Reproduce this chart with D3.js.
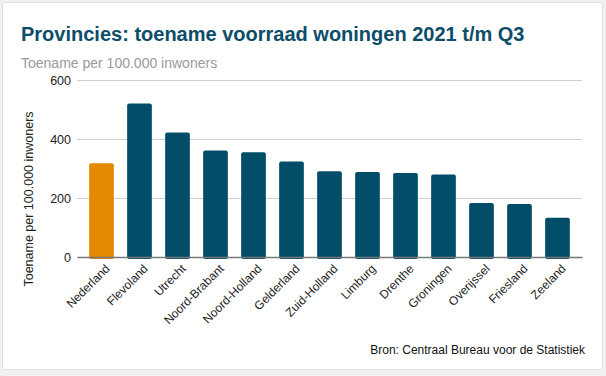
<!DOCTYPE html>
<html>
<head>
<meta charset="utf-8">
<script src="https://cdn.jsdelivr.net/npm/d3@7"></script>
<style>
  body { margin: 0; background: #f1f1f1; font-family: "Liberation Sans", Arial, sans-serif; }
  svg { display: block; }
</style>
</head>
<body>
<svg id="chart"></svg>
<script>
var provinces = ["Nederland", "Flevoland", "Utrecht", "Noord-Brabant", "Noord-Holland", "Gelderland",
                 "Zuid-Holland", "Limburg", "Drenthe", "Groningen", "Overijssel", "Friesland", "Zeeland"];
var toename = [318, 520, 422, 361, 355, 324, 291, 288, 285, 280, 183, 180, 133];
var yTicks = [0, 200, 400, 600];

var width = 606, height = 376;
var svg = d3.select("#chart").attr("width", width).attr("height", height);

// card
svg.append("rect").attr("x", 2.5).attr("y", 2.5).attr("width", 600).attr("height", 367)
   .attr("fill", "#fff").attr("stroke", "#e2e2e2");

svg.append("text").attr("x", 21).attr("y", 41)
   .attr("font-size", 20).attr("font-weight", "bold").attr("fill", "#0c4d69")
   .text("Provincies: toename voorraad woningen 2021 t/m Q3");
svg.append("text").attr("x", 21).attr("y", 68)
   .attr("font-size", 14).attr("fill", "#9a9a9a")
   .text("Toename per 100.000 inwoners");

var x = d3.scaleBand().domain(provinces).range([77, 582]).paddingInner(0.35).paddingOuter(0.32);
var y = d3.scaleLinear().domain([0, 600]).range([257, 80]);

var yAxis = d3.axisLeft(y).tickValues(yTicks).tickSize(-(582 - 77)).tickPadding(6);
var gy = svg.append("g").attr("transform", "translate(77,0)").call(yAxis);
gy.select(".domain").remove();
gy.selectAll(".tick line").attr("stroke", "#d0d0d0");
gy.selectAll(".tick text").attr("font-size", 12.5).attr("fill", "#222").attr("font-family", "Liberation Sans, Arial, sans-serif");

svg.selectAll(".bar").data(provinces).enter().append("rect")
   .attr("x", function(d) { return x(d); })
   .attr("y", function(d, i) { return y(toename[i]); })
   .attr("width", x.bandwidth())
   .attr("height", function(d, i) { return y(0) - y(toename[i]) + 2; })
   .attr("rx", 2)
   .attr("fill", function(d, i) { return i == 0 ? "#e38902" : "#024e69"; });

var xAxis = d3.axisBottom(x).tickSize(0).tickPadding(8);
var gx = svg.append("g").attr("transform", "translate(0,257)").call(xAxis);
gx.select(".domain").attr("stroke", "#777").attr("stroke-width", 1.5);
gx.selectAll(".tick text")
  .attr("font-size", 12).attr("fill", "#222").attr("font-family", "Liberation Sans, Arial, sans-serif")
  .attr("text-anchor", "end")
  .attr("transform", "rotate(-45)")
  .attr("dx", "-0.2em").attr("dy", "0.6em");

svg.append("text").attr("transform", "translate(33,199) rotate(-90)")
   .attr("text-anchor", "middle").attr("font-size", 12.5).attr("fill", "#222")
   .text("Toename per 100.000 inwoners");

svg.append("text").attr("x", 585).attr("y", 354).attr("text-anchor", "end")
   .attr("font-size", 12).attr("fill", "#111")
   .text("Bron: Centraal Bureau voor de Statistiek");
</script>
</body>
</html>
